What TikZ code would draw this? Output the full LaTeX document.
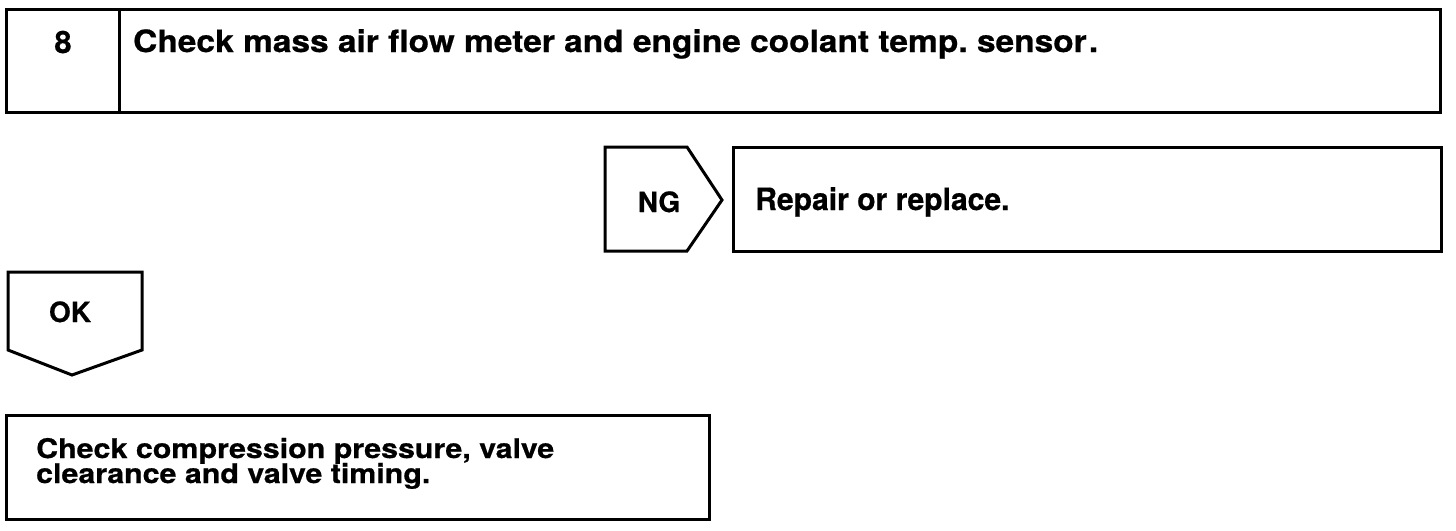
\documentclass[tikz,border=0pt]{standalone}
\usepackage{fontspec}
\setmainfont{TeX Gyre Heros}[BoldFeatures={FakeBold=0.6}]
\usepackage{graphicx}
\frenchspacing
\begin{document}
\begin{tikzpicture}[x=1pt,y=-1pt,
  frame/.style={draw=black,line width=3pt,line join=miter},
  big/.style={inner sep=0pt,font=\fontsize{30.7}{32}\selectfont\bfseries},
  mid/.style={inner sep=0pt,font=\fontsize{28}{28}\selectfont\bfseries},
  small/.style={inner sep=0pt,font=\fontsize{27}{25}\selectfont\bfseries}]
\useasboundingbox (0,0) rectangle (1456,530);
% top step box
\draw[frame] (6,9) rectangle (1440,112);
\draw[frame] (119,9) -- (119,112);
\node[big,anchor=base] (num) at (63,53) {8};
\node[big,anchor=base west] (title) at (133,52) {\scalebox{1.09}[1]{Check mass air flow meter and engine coolant temp. sensor\kern2pt.}};
% NG arrow and result box
\draw[frame] (605,147) -- (687,147) -- (722,200) -- (687,251) -- (605,251) -- cycle;
\node[mid,anchor=base] (ng) at (659,212) {NG};
\draw[frame] (733,147) rectangle (1441,251);
\node[big,anchor=base west] (repair) at (755,210) {\scalebox{0.98}[1]{Repair or replace.}};
% OK arrow
\draw[frame] (8,272) -- (142,272) -- (142,350) -- (72,375) -- (8,350) -- cycle;
\node[mid,anchor=base] (ok) at (70,322) {OK};
% bottom box
\draw[frame] (6,415) rectangle (709,519);
\node[small,anchor=base west] (l1) at (36,458) {\scalebox{1.125}[1]{Check compression pressure, valve}};
\node[small,anchor=base west] (l2) at (36,483) {\scalebox{1.125}[1]{clearance and valve timing.}};
\end{tikzpicture}
\end{document}
